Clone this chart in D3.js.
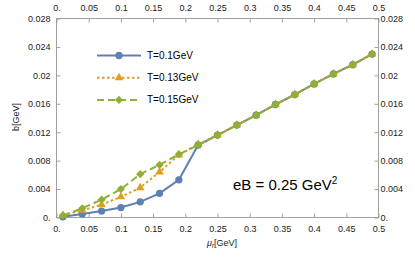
<!DOCTYPE html>
<html>
<head>
<meta charset="utf-8">
<script src="https://cdn.jsdelivr.net/npm/d3@7"></script>
<style>
  body { margin: 0; background: #fff; }
  text { font-family: "Liberation Sans", Arial, sans-serif; }
</style>
</head>
<body>
<svg id="chart" width="415" height="260"></svg>
<script>
// chemical potential values (GeV)
const mu = [0.01, 0.04, 0.07, 0.10, 0.13, 0.16, 0.19, 0.22, 0.25, 0.28, 0.31, 0.34, 0.37, 0.40, 0.43, 0.46, 0.49];
const seriesNames = ['T=0.1GeV', 'T=0.13GeV', 'T=0.15GeV'];
const bT010 = [0.0001, 0.0005, 0.0009, 0.0014, 0.0022, 0.0034, 0.0053, 0.0102, 0.0116, 0.0130, 0.0144, 0.0159, 0.0173, 0.0188, 0.0202, 0.0215, 0.0230];
const bT013 = [0.0003, 0.0010, 0.0018, 0.0029, 0.0042, 0.0064, 0.0088, 0.0103, 0.0116, 0.0130, 0.0144, 0.0159, 0.0173, 0.0188, 0.0202, 0.0215, 0.0230];
const bT015 = [0.0003, 0.0013, 0.0025, 0.0040, 0.0061, 0.0074, 0.0089, 0.0102, 0.0116, 0.0130, 0.0144, 0.0159, 0.0173, 0.0188, 0.0202, 0.0215, 0.0230];
const xTicks = [0, 0.05, 0.1, 0.15, 0.2, 0.25, 0.3, 0.35, 0.4, 0.45, 0.5];
const xTickLabels = ['0.', '0.05', '0.1', '0.15', '0.2', '0.25', '0.3', '0.35', '0.4', '0.45', '0.5'];
const yTicks = [0, 0.004, 0.008, 0.012, 0.016, 0.02, 0.024, 0.028];
const yTickLabels = ['0.', '0.004', '0.008', '0.012', '0.016', '0.02', '0.024', '0.028'];

const colors = ['#5E81B5', '#E19C24', '#8FB032'];
const dashes = [null, '2.5,2.5', '7,4'];
const symbols = [d3.symbolCircle, d3.symbolTriangle, d3.symbolSquare];
const symSizes = [42, 32, 34];
const symRotate = [0, 0, 45];

const svg = d3.select('#chart');
const plotLeft = 56.5, plotRight = 378.5, plotTop = 18.5, plotBottom = 217.5;

const x = d3.scaleLinear().domain([0, 0.5]).range([plotLeft, plotRight]);
const y = d3.scaleLinear().domain([0, 0.028]).range([plotBottom, plotTop]);

// frame
svg.append('rect')
  .attr('x', plotLeft).attr('y', plotTop)
  .attr('width', plotRight - plotLeft).attr('height', plotBottom - plotTop)
  .attr('fill', 'none').attr('stroke', '#a0a0a0').attr('stroke-width', 1);

const fmtX = d => xTickLabels[xTicks.indexOf(d)];
const fmtY = d => yTickLabels[yTicks.indexOf(d)];

function styleAxis(g) {
  g.select('.domain').remove();
  g.selectAll('line').attr('stroke', '#a0a0a0');
  g.selectAll('text').attr('fill', '#222').style('font-size', '9px');
}

svg.append('g').attr('transform', `translate(0,${plotBottom})`)
  .call(d3.axisBottom(x).tickValues(xTicks).tickFormat(fmtX).tickSizeInner(-4).tickPadding(8))
  .call(styleAxis);
svg.append('g').attr('transform', `translate(0,${plotTop})`)
  .call(d3.axisTop(x).tickValues(xTicks).tickFormat(fmtX).tickSizeInner(-4).tickPadding(8))
  .call(styleAxis);
svg.append('g').attr('transform', `translate(${plotLeft},0)`)
  .call(d3.axisLeft(y).tickValues(yTicks).tickFormat(fmtY).tickSizeInner(-4).tickPadding(6))
  .call(styleAxis);
svg.append('g').attr('transform', `translate(${plotRight},0)`)
  .call(d3.axisRight(y).tickValues(yTicks).tickFormat(fmtY).tickSizeInner(-4).tickPadding(2))
  .call(styleAxis);

// series
const allSeries = [bT010, bT013, bT015];
const line = d3.line().x(d => x(d[0])).y(d => y(d[1]));

allSeries.forEach((vals, i) => {
  const pts = mu.map((m, j) => [m, vals[j]]);
  const g = svg.append('g');
  g.append('path')
    .attr('d', line(pts))
    .attr('fill', 'none')
    .attr('stroke', colors[i])
    .attr('stroke-width', 2)
    .attr('stroke-dasharray', dashes[i]);
  g.selectAll('path.m').data(pts).enter().append('path')
    .attr('class', 'm')
    .attr('transform', d => `translate(${x(d[0])},${y(d[1])}) rotate(${symRotate[i]})`)
    .attr('d', d3.symbol().type(symbols[i]).size(symSizes[i]))
    .attr('fill', colors[i]);
});

// legend
const legend = svg.append('g');
seriesNames.forEach((name, i) => {
  const ly = 55.5 + i * 22.2;
  legend.append('line')
    .attr('x1', 97).attr('x2', 141).attr('y1', ly).attr('y2', ly)
    .attr('stroke', colors[i]).attr('stroke-width', 2)
    .attr('stroke-dasharray', dashes[i]);
  legend.append('path')
    .attr('transform', `translate(119,${ly}) rotate(${symRotate[i]})`)
    .attr('d', d3.symbol().type(symbols[i]).size(symSizes[i]))
    .attr('fill', colors[i]);
  legend.append('text')
    .attr('x', 147).attr('y', ly + 3.5)
    .style('font-size', '10px').attr('fill', '#000')
    .text(name);
});

// annotation
const ann = svg.append('text')
  .attr('x', 233).attr('y', 190)
  .style('font-size', '15px').attr('fill', '#000');
ann.append('tspan').text('eB = 0.25 GeV');
ann.append('tspan').attr('dy', -6).style('font-size', '10px').text('2');

// axis labels
const xl = svg.append('text')
  .attr('x', 222).attr('y', 246)
  .attr('text-anchor', 'middle')
  .style('font-size', '9px').attr('fill', '#222');
xl.append('tspan').style('font-style', 'italic').text('μ');
xl.append('tspan').attr('dy', 2).style('font-size', '6.5px').style('font-style', 'italic').text('r');
xl.append('tspan').attr('dy', -2).text('[GeV]');

svg.append('text')
  .attr('transform', 'translate(19,117) rotate(-90)')
  .attr('text-anchor', 'middle')
  .style('font-size', '9px').attr('fill', '#222')
  .text('b[GeV]');
</script>
</body>
</html>
